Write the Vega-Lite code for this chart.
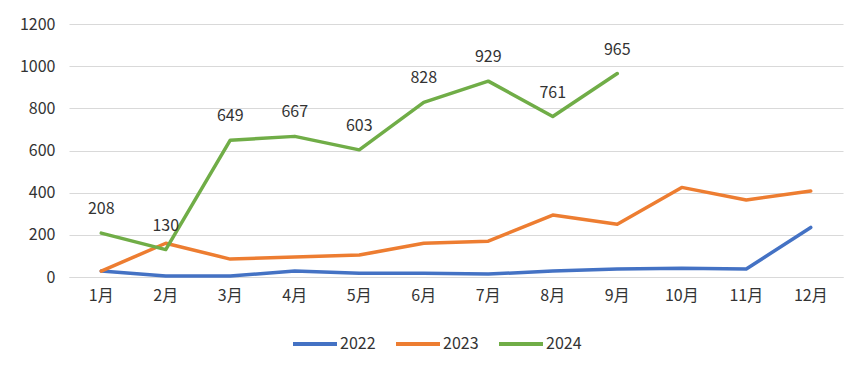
{
  "$schema": "https://vega.github.io/schema/vega-lite/v6.json",
  "width": 774,
  "height": 253,
  "autosize": {"type": "none"},
  "padding": {"left": 69, "top": 24, "right": 24, "bottom": 94},
  "background": "white",
  "config": {
    "view": {"stroke": null},
    "font": "Noto Sans CJK SC",
    "axis": {"labelFont": "Noto Sans CJK SC", "labelFontSize": 16, "labelColor": "#333333"},
    "legend": {"labelFont": "Noto Sans CJK SC", "labelFontSize": 16, "labelColor": "#333333"}
  },
  "data": {
    "values": [
      {"month": "1月", "year": "2022", "value": 28},
      {"month": "2月", "year": "2022", "value": 5},
      {"month": "3月", "year": "2022", "value": 5},
      {"month": "4月", "year": "2022", "value": 28},
      {"month": "5月", "year": "2022", "value": 18},
      {"month": "6月", "year": "2022", "value": 18},
      {"month": "7月", "year": "2022", "value": 14},
      {"month": "8月", "year": "2022", "value": 28},
      {"month": "9月", "year": "2022", "value": 38},
      {"month": "10月", "year": "2022", "value": 42},
      {"month": "11月", "year": "2022", "value": 38},
      {"month": "12月", "year": "2022", "value": 235},
      {"month": "1月", "year": "2023", "value": 28},
      {"month": "2月", "year": "2023", "value": 160},
      {"month": "3月", "year": "2023", "value": 85},
      {"month": "4月", "year": "2023", "value": 95},
      {"month": "5月", "year": "2023", "value": 104},
      {"month": "6月", "year": "2023", "value": 160},
      {"month": "7月", "year": "2023", "value": 170},
      {"month": "8月", "year": "2023", "value": 294},
      {"month": "9月", "year": "2023", "value": 250},
      {"month": "10月", "year": "2023", "value": 425},
      {"month": "11月", "year": "2023", "value": 365},
      {"month": "12月", "year": "2023", "value": 408},
      {"month": "1月", "year": "2024", "value": 208},
      {"month": "2月", "year": "2024", "value": 130},
      {"month": "3月", "year": "2024", "value": 649},
      {"month": "4月", "year": "2024", "value": 667},
      {"month": "5月", "year": "2024", "value": 603},
      {"month": "6月", "year": "2024", "value": 828},
      {"month": "7月", "year": "2024", "value": 929},
      {"month": "8月", "year": "2024", "value": 761},
      {"month": "9月", "year": "2024", "value": 965}
    ]
  },
  "encoding": {
    "x": {
      "field": "month", "type": "ordinal",
      "sort": ["1月","2月","3月","4月","5月","6月","7月","8月","9月","10月","11月","12月"],
      "scale": {"type": "band", "paddingInner": 0, "paddingOuter": 0},
      "axis": {"title": null, "labelAngle": 0, "domain": true, "domainColor": "#d9d9d9", "domainWidth": 1, "ticks": false, "labelPadding": 10, "grid": false}
    },
    "y": {
      "field": "value", "type": "quantitative",
      "scale": {"domain": [0, 1200], "nice": false},
      "axis": {"title": null, "format": "d", "values": [0,200,400,600,800,1000,1200], "domain": false, "ticks": false, "gridColor": "#d9d9d9", "gridWidth": 1, "labelPadding": 14}
    }
  },
  "layer": [
    {
      "mark": {"type": "line", "strokeWidth": 3.5, "strokeCap": "round", "strokeJoin": "round"},
      "encoding": {
        "color": {
          "field": "year", "type": "nominal",
          "scale": {"domain": ["2022","2023","2024"], "range": ["#4472C4","#ED7D31","#70AD47"]},
          "legend": {"title": null, "orient": "none", "legendX": 222, "legendY": 296, "direction": "horizontal", "symbolType": "stroke", "symbolSize": 1936, "symbolStrokeWidth": 4, "columnPadding": 12, "labelOffset": 1}
        }
      }
    },
    {
      "transform": [{"filter": "datum.year === '2024'"}],
      "mark": {"type": "text", "dy": -24, "fontSize": 16, "color": "#333333"},
      "encoding": {"text": {"field": "value", "type": "quantitative"}}
    }
  ]
}
